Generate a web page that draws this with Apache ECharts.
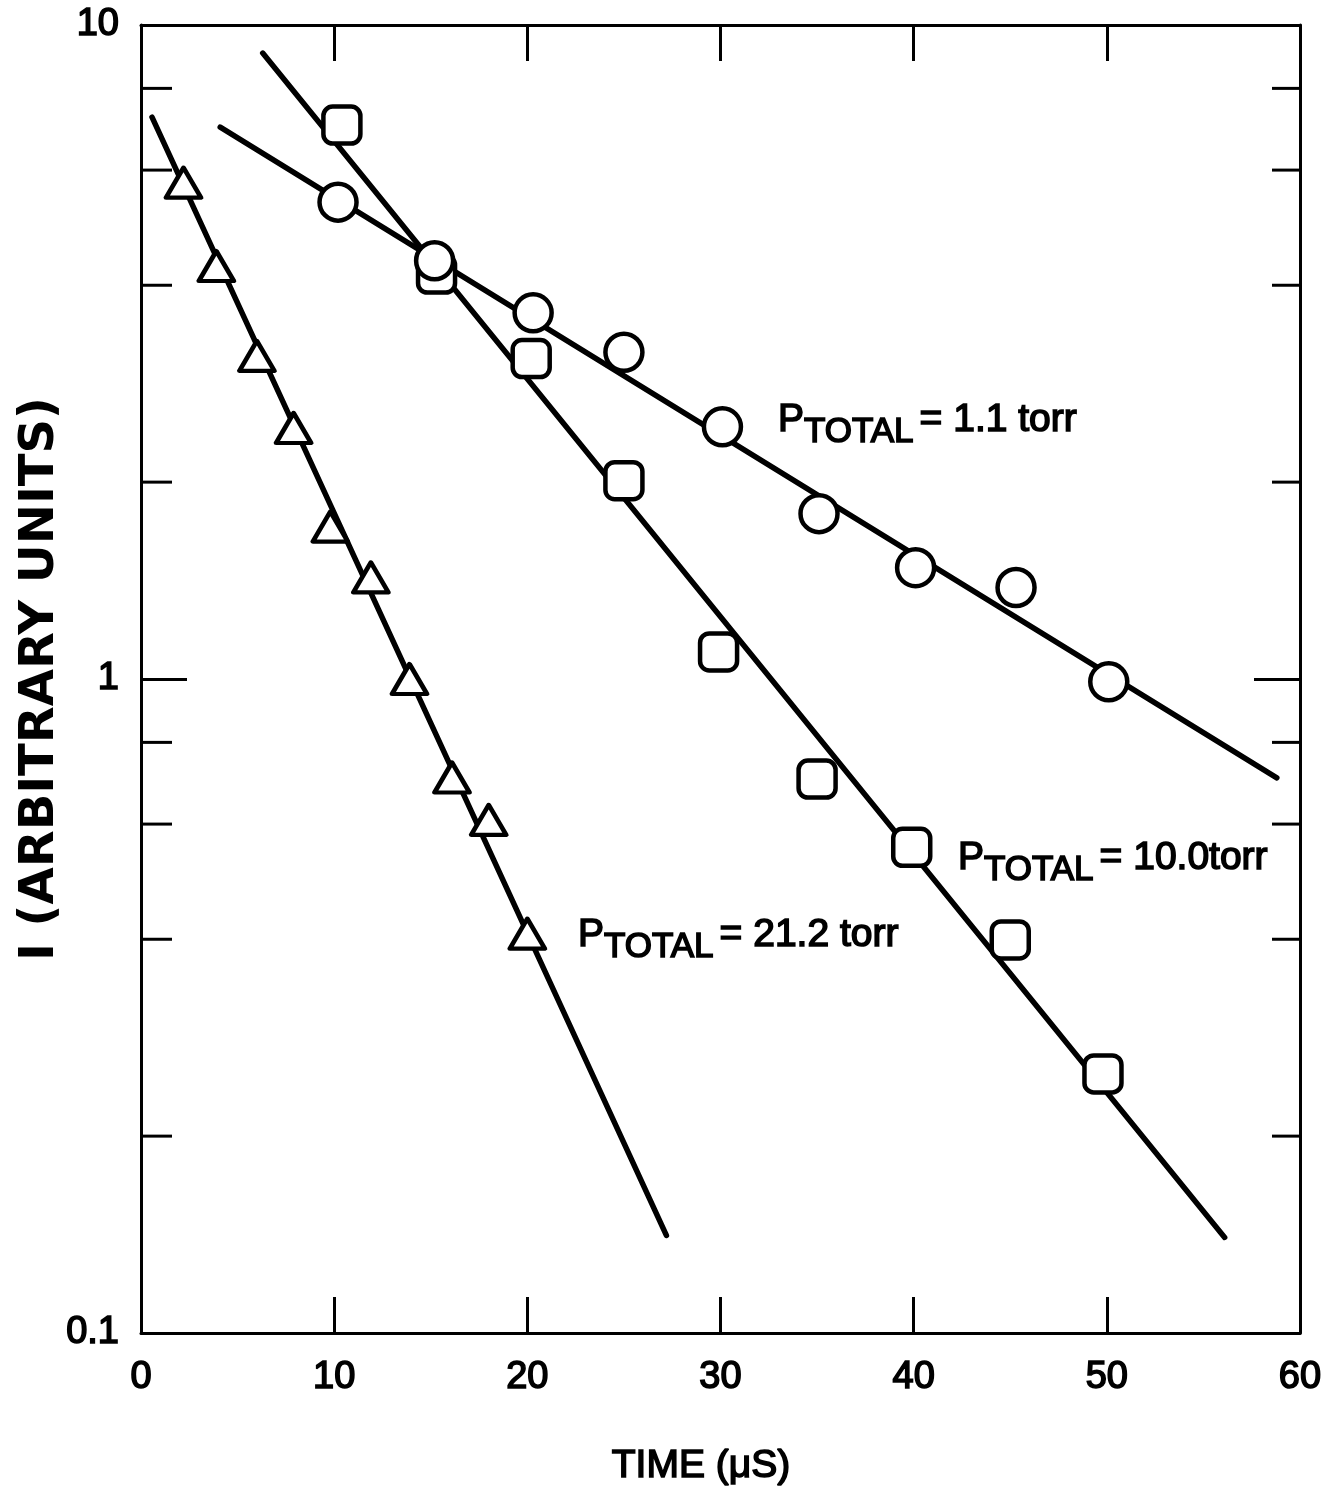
<!DOCTYPE html>
<html>
<head>
<meta charset="utf-8">
<script src="https://cdn.jsdelivr.net/npm/echarts@6/dist/echarts.min.js"></script>
<style>
  html, body { margin: 0; padding: 0; background: #ffffff; }
  #chart { width: 1326px; height: 1503px; }
</style>
</head>
<body>
<div id="chart"></div>
<script>
// Emission intensity decay, I (arbitrary units) vs time (microseconds), three total pressures.

// P_TOTAL = 21.2 torr (triangles)
const time212 = [2.2, 3.9, 6.0, 7.9, 9.8, 11.9, 13.9, 16.1, 18.0, 20.0];
const intensity212 = [5.74, 4.28, 3.12, 2.42, 1.71, 1.43, 1.00, 0.707, 0.609, 0.408];
const fitTime212 = [0.57, 27.2];
const fitIntensity212 = [7.23, 0.141];

// P_TOTAL = 10.0 torr (squares)
const time100 = [10.4, 15.3, 20.2, 25.0, 29.9, 35.0, 39.9, 45.0, 49.8];
const intensity100 = [7.03, 4.16, 3.09, 2.01, 1.10, 0.703, 0.553, 0.399, 0.249];
const fitTime100 = [6.3, 56.1];
const fitIntensity100 = [9.06, 0.140];

// P_TOTAL = 1.1 torr (circles)
const time11 = [10.2, 15.2, 20.3, 25.0, 30.1, 35.1, 40.1, 45.3, 50.1];
const intensity11 = [5.36, 4.36, 3.63, 3.16, 2.43, 1.79, 1.48, 1.38, 0.99];
const fitTime11 = [4.1, 58.8];
const fitIntensity11 = [6.98, 0.706];

// Axes
const xRange = [0, 60];
const xStep = 10;
const yRange = [0.1, 10];
const yMinorTicks = [8, 6, 4, 2, 0.8, 0.6, 0.4, 0.2];

// Annotation texts
const labelTexts = ['= 1.1 torr', '= 10.0torr', '= 21.2 torr'];

const zip = (xs, ys) => xs.map((x, i) => [x, ys[i]]);

const FONT = 'Liberation Sans';
const INK = '#000000';
const TEXT_STROKE = 1.6;

const baseAxisLine = { show: true, onZero: false, lineStyle: { color: INK, width: 3 } };

const chart = echarts.init(document.getElementById('chart'), null, { renderer: 'canvas' });

const fitLine = (data) => ({
  type: 'line',
  data: data,
  showSymbol: false,
  symbol: 'none',
  silent: true,
  z: 2,
  lineStyle: { color: INK, width: 5.5, cap: 'round' }
});

const markers = (data, symbol, size) => ({
  type: 'scatter',
  data: data,
  symbol: symbol,
  symbolSize: size,
  silent: true,
  z: 3,
  itemStyle: { color: '#ffffff', borderColor: INK, borderWidth: 4.5, borderJoin: 'round', opacity: 1 }
});

const labelRich = {
  p: { fontSize: 39, fontFamily: FONT, fill: INK, stroke: INK, lineWidth: TEXT_STROKE, verticalAlign: 'middle' },
  s: { fontSize: 35, fontFamily: FONT, fill: INK, stroke: INK, lineWidth: TEXT_STROKE, verticalAlign: 'middle', padding: [24, 6, 0, 0] }
};

const pressureLabel = (x, y, rest) => ({
  type: 'text',
  x: x,
  y: y,
  silent: true,
  style: {
    text: '{p|P}{s|TOTAL}{p|' + rest + '}',
    rich: labelRich,
    align: 'left',
    verticalAlign: 'middle'
  }
});

const option = {
  animation: false,
  backgroundColor: '#ffffff',
  grid: { left: 141, right: 26, top: 25, bottom: 170, outerBoundsMode: 'none', containLabel: false },
  xAxis: [
    {
      type: 'value', position: 'bottom', min: xRange[0], max: xRange[1], interval: xStep,
      axisLine: baseAxisLine,
      axisTick: { show: true, inside: true, length: 36, lineStyle: { color: INK, width: 3 } },
      splitLine: { show: false },
      axisLabel: {
        show: true, margin: 26, color: INK, fontSize: 38, fontFamily: FONT,
        textBorderColor: INK, textBorderWidth: TEXT_STROKE
      },
      name: 'TIME (\u03bcS)',
      nameLocation: 'middle',
      nameGap: 114,
      nameMoveOverlap: false,
      nameTextStyle: {
        color: INK, fontSize: 39, fontFamily: FONT, textBorderColor: INK, textBorderWidth: TEXT_STROKE,
        padding: [0, 39, 0, 0]
      }
    },
    {
      type: 'value', position: 'top', min: xRange[0], max: xRange[1], interval: xStep,
      axisLine: baseAxisLine,
      axisTick: { show: true, inside: true, length: 36, lineStyle: { color: INK, width: 3 } },
      splitLine: { show: false },
      axisLabel: { show: false }
    }
  ],
  yAxis: [
    {
      type: 'log', logBase: 10, position: 'left', min: yRange[0], max: yRange[1],
      axisLine: baseAxisLine,
      axisTick: { show: true, inside: true, length: 46, lineStyle: { color: INK, width: 3 } },
      splitLine: { show: false },
      minorTick: { show: false },
      axisLabel: {
        show: true, margin: 22, color: INK, fontSize: 38, fontFamily: FONT,
        textBorderColor: INK, textBorderWidth: TEXT_STROKE,
        formatter: (v) => String(+Number(v).toPrecision(3))
      },
      name: 'I (ARBITRARY UNITS)',
      nameLocation: 'middle',
      nameGap: 76,
      nameMoveOverlap: false,
      nameTextStyle: {
        color: INK, fontSize: 48, fontWeight: 'bold', fontFamily: 'DejaVu Sans'
      }
    },
    {
      type: 'log', logBase: 10, position: 'right', min: yRange[0], max: yRange[1],
      axisLine: baseAxisLine,
      axisTick: { show: true, inside: true, length: 46, lineStyle: { color: INK, width: 3 } },
      splitLine: { show: false },
      axisLabel: { show: false }
    }
  ],
  series: [
    fitLine(zip(fitTime212, fitIntensity212)),
    fitLine(zip(fitTime100, fitIntensity100)),
    fitLine(zip(fitTime11, fitIntensity11)),
    markers(zip(time212, intensity212), 'triangle', [35, 30]),
    markers(zip(time100, intensity100), 'roundRect', 37),
    markers(zip(time11, intensity11), 'circle', 37),
    {
      // short inward ticks at 2,4,6,8 of each decade, on both frame sides
      type: 'custom',
      coordinateSystem: 'cartesian2d',
      data: yMinorTicks.map(v => [xRange[0], v]),
      encode: { x: 0, y: 1 },
      clip: false,
      silent: true,
      z: 1,
      renderItem: (params, api) => {
        const v = api.value(1);
        const l = api.coord([xRange[0], v]);
        const r = api.coord([xRange[1], v]);
        const st = { stroke: INK, lineWidth: 3 };
        return {
          type: 'group',
          children: [
            { type: 'line', shape: { x1: l[0], y1: l[1], x2: l[0] + 31, y2: l[1] }, style: st },
            { type: 'line', shape: { x1: r[0] - 28, y1: r[1], x2: r[0], y2: r[1] }, style: st }
          ]
        };
      }
    }
  ],
  graphic: [
    pressureLabel(778, 420.5, labelTexts[0]),
    pressureLabel(958, 858.5, labelTexts[1]),
    pressureLabel(578, 935.5, labelTexts[2])
  ]
};

chart.setOption(option);
</script>
</body>
</html>
